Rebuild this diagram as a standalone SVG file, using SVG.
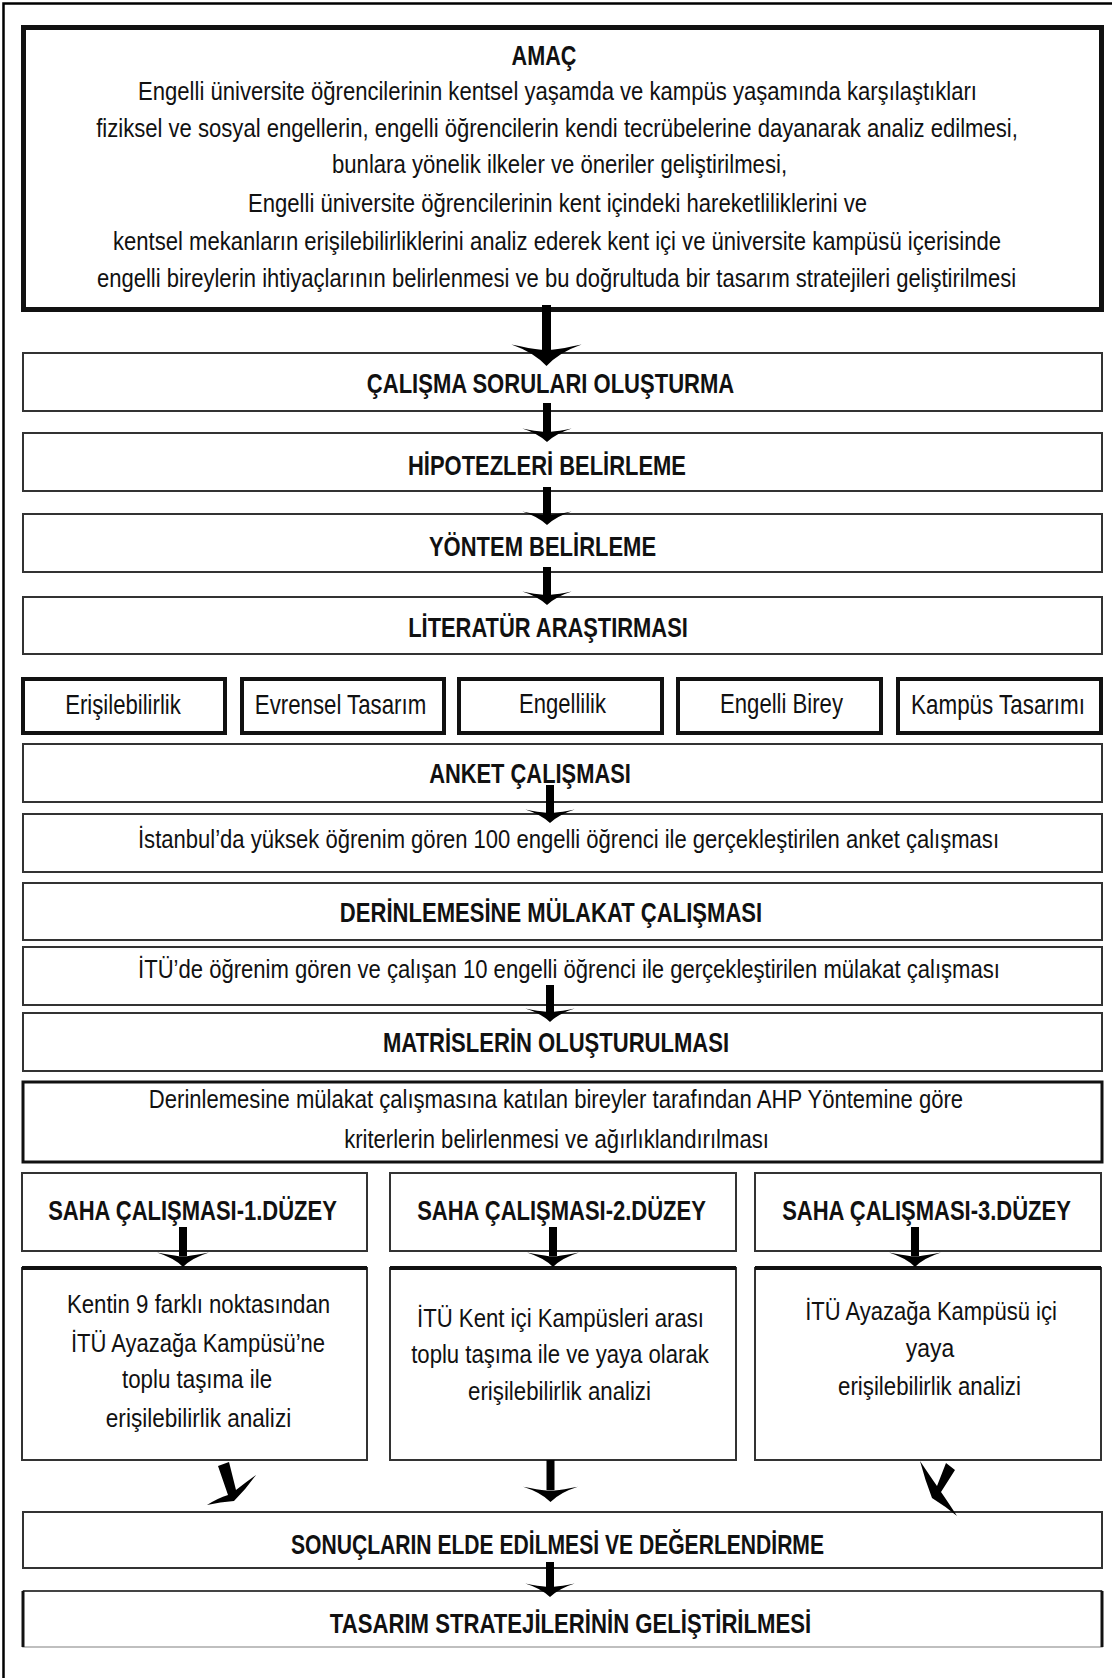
<svg xmlns="http://www.w3.org/2000/svg" xmlns:xlink="http://www.w3.org/1999/xlink" width="1112" height="1678" viewBox="0 0 1112 1678">
<style>
.box{fill:#fff;stroke:#333;stroke-width:2}
.thick{fill:#fff;stroke:#111;stroke-width:4}
.t{font-family:"Liberation Sans","Arial",sans-serif;font-size:26.5px;fill:#111;text-anchor:middle}
.b{font-weight:bold;font-size:28px}
.k{font-size:28px}
.shaft{stroke:#000;stroke-width:9;fill:none}
.sh2{stroke:#000;stroke-width:8;fill:none}
.head{fill:#000}
</style>
<defs>
<path id="hd" d="M0,0 Q-9,-10 -26,-16 Q-12,-13 -4,-12 L4,-12 Q12,-13 26,-16 Q9,-10 0,0 Z"/>
</defs>
<rect x="0" y="0" width="1112" height="1678" fill="#fff"/>
<path d="M3.5,1678 L3.5,3.5 L1112,3.5" fill="none" stroke="#000" stroke-width="2.5"/>

<g id="amac">
<rect x="23.5" y="27.5" width="1078" height="282" fill="#fff" stroke="#111" stroke-width="5"/>
<text class="t b" transform="translate(544,65) scale(.82,1)" textLength="79" lengthAdjust="spacingAndGlyphs">AMAÇ</text>
<text class="t" transform="translate(557.5,100) scale(.82,1)" textLength="1023" lengthAdjust="spacingAndGlyphs">Engelli üniversite öğrencilerinin kentsel yaşamda ve kampüs yaşamında karşılaştıkları</text>
<text class="t" transform="translate(557,137) scale(.82,1)" textLength="1124" lengthAdjust="spacingAndGlyphs">fiziksel ve sosyal engellerin, engelli öğrencilerin kendi tecrübelerine dayanarak analiz edilmesi,</text>
<text class="t" transform="translate(559.5,173) scale(.82,1)" textLength="555" lengthAdjust="spacingAndGlyphs">bunlara yönelik ilkeler ve öneriler geliştirilmesi,</text>
<text class="t" transform="translate(557.5,212) scale(.82,1)" textLength="755" lengthAdjust="spacingAndGlyphs">Engelli üniversite öğrencilerinin kent içindeki hareketliliklerini ve</text>
<text class="t" transform="translate(557,250) scale(.82,1)" textLength="1083" lengthAdjust="spacingAndGlyphs">kentsel mekanların erişilebilirliklerini analiz ederek kent içi ve üniversite kampüsü içerisinde</text>
<text class="t" transform="translate(556.5,287) scale(.82,1)" textLength="1121" lengthAdjust="spacingAndGlyphs">engelli bireylerin ihtiyaçlarının belirlenmesi ve bu doğrultuda bir tasarım stratejileri geliştirilmesi</text>
</g>

<g id="calisma">
<rect class="box" x="23" y="353" width="1079" height="58"/>
<text class="t b" transform="translate(550.5,393) scale(.82,1)" textLength="448" lengthAdjust="spacingAndGlyphs">ÇALIŞMA SORULARI OLUŞTURMA</text>
</g>
<g id="hipotez">
<rect class="box" x="23" y="433" width="1079" height="58"/>
<text class="t b" transform="translate(547,475) scale(.82,1)" textLength="339" lengthAdjust="spacingAndGlyphs">HİPOTEZLERİ BELİRLEME</text>
</g>
<g id="yontem">
<rect class="box" x="23" y="514" width="1079" height="58"/>
<text class="t b" transform="translate(542.5,556) scale(.82,1)" textLength="277" lengthAdjust="spacingAndGlyphs">YÖNTEM BELİRLEME</text>
</g>
<g id="literatur">
<rect class="box" x="23" y="597" width="1079" height="57"/>
<text class="t b" transform="translate(548,637) scale(.82,1)" textLength="341" lengthAdjust="spacingAndGlyphs">LİTERATÜR ARAŞTIRMASI</text>
</g>

<g id="k1"><rect class="thick" x="23" y="679" width="202" height="54"/><text class="t k" transform="translate(123,714) scale(.82,1)" textLength="141" lengthAdjust="spacingAndGlyphs">Erişilebilirlik</text></g>
<g id="k2"><rect class="thick" x="242" y="679" width="202" height="54"/><text class="t k" transform="translate(340.5,714) scale(.82,1)" textLength="209" lengthAdjust="spacingAndGlyphs">Evrensel Tasarım</text></g>
<g id="k3"><rect class="thick" x="459" y="679" width="203" height="54"/><text class="t k" transform="translate(562.5,713) scale(.82,1)" textLength="106" lengthAdjust="spacingAndGlyphs">Engellilik</text></g>
<g id="k4"><rect class="thick" x="678" y="679" width="203" height="54"/><text class="t k" transform="translate(781.5,713) scale(.82,1)" textLength="150" lengthAdjust="spacingAndGlyphs">Engelli Birey</text></g>
<g id="k5"><rect class="thick" x="898" y="679" width="203" height="54"/><text class="t k" transform="translate(998,714) scale(.82,1)" textLength="212" lengthAdjust="spacingAndGlyphs">Kampüs Tasarımı</text></g>

<g id="anket">
<rect class="box" x="23" y="744" width="1079" height="58"/>
<text class="t b" transform="translate(530,783) scale(.82,1)" textLength="246" lengthAdjust="spacingAndGlyphs">ANKET ÇALIŞMASI</text>
</g>
<g id="istanbul">
<rect class="box" x="23" y="814" width="1079" height="58"/>
<text class="t" transform="translate(568.5,848) scale(.82,1)" textLength="1050" lengthAdjust="spacingAndGlyphs">İstanbul’da yüksek öğrenim gören 100 engelli öğrenci ile gerçekleştirilen anket çalışması</text>
</g>
<g id="derinlemesine">
<rect class="box" x="23" y="883" width="1079" height="57"/>
<text class="t b" transform="translate(551,922) scale(.82,1)" textLength="515" lengthAdjust="spacingAndGlyphs">DERİNLEMESİNE MÜLAKAT ÇALIŞMASI</text>
</g>
<g id="itude">
<rect class="box" x="23" y="947" width="1079" height="58"/>
<text class="t" transform="translate(569,978) scale(.82,1)" textLength="1051" lengthAdjust="spacingAndGlyphs">İTÜ’de öğrenim gören ve çalışan 10 engelli öğrenci ile gerçekleştirilen mülakat çalışması</text>
</g>
<g id="matris">
<rect class="box" x="23" y="1013" width="1079" height="58"/>
<text class="t b" transform="translate(556,1052) scale(.82,1)" textLength="422" lengthAdjust="spacingAndGlyphs">MATRİSLERİN OLUŞTURULMASI</text>
</g>
<g id="ahp">
<rect x="23" y="1082" width="1079" height="80" fill="#fff" stroke="#111" stroke-width="3"/>
<text class="t" transform="translate(556,1108) scale(.82,1)" textLength="993" lengthAdjust="spacingAndGlyphs">Derinlemesine mülakat çalışmasına katılan bireyler tarafından AHP Yöntemine göre</text>
<text class="t" transform="translate(556.5,1148) scale(.82,1)" textLength="518" lengthAdjust="spacingAndGlyphs">kriterlerin belirlenmesi ve ağırlıklandırılması</text>
</g>

<g id="saha1">
<rect class="box" x="22" y="1173" width="345" height="78"/>
<text class="t b" transform="translate(192.5,1220) scale(.82,1)" textLength="352" lengthAdjust="spacingAndGlyphs">SAHA ÇALIŞMASI-1.DÜZEY</text>
</g>
<g id="saha2">
<rect class="box" x="390" y="1173" width="346" height="78"/>
<text class="t b" transform="translate(561.5,1220) scale(.82,1)" textLength="352" lengthAdjust="spacingAndGlyphs">SAHA ÇALIŞMASI-2.DÜZEY</text>
</g>
<g id="saha3">
<rect class="box" x="755" y="1173" width="346" height="78"/>
<text class="t b" transform="translate(926.5,1220) scale(.82,1)" textLength="352" lengthAdjust="spacingAndGlyphs">SAHA ÇALIŞMASI-3.DÜZEY</text>
</g>

<g id="icerik1">
<rect class="box" x="22" y="1268" width="345" height="192"/>
<line x1="22" y1="1268" x2="367" y2="1268" stroke="#111" stroke-width="4"/>
<text class="t" transform="translate(198.5,1313) scale(.82,1)" textLength="321" lengthAdjust="spacingAndGlyphs">Kentin 9 farklı noktasından</text>
<text class="t" transform="translate(198,1352) scale(.82,1)" textLength="310" lengthAdjust="spacingAndGlyphs">İTÜ Ayazağa Kampüsü’ne</text>
<text class="t" transform="translate(197,1388) scale(.82,1)" textLength="183" lengthAdjust="spacingAndGlyphs">toplu taşıma ile</text>
<text class="t" transform="translate(198.5,1427) scale(.82,1)" textLength="226" lengthAdjust="spacingAndGlyphs">erişilebilirlik analizi</text>
</g>
<g id="icerik2">
<rect class="box" x="390" y="1268" width="346" height="192"/>
<line x1="390" y1="1268" x2="736" y2="1268" stroke="#111" stroke-width="4"/>
<text class="t" transform="translate(560.5,1327) scale(.82,1)" textLength="350" lengthAdjust="spacingAndGlyphs">İTÜ Kent içi Kampüsleri arası</text>
<text class="t" transform="translate(560,1363) scale(.82,1)" textLength="363" lengthAdjust="spacingAndGlyphs">toplu taşıma ile ve yaya olarak</text>
<text class="t" transform="translate(559.5,1400) scale(.82,1)" textLength="223" lengthAdjust="spacingAndGlyphs">erişilebilirlik analizi</text>
</g>
<g id="icerik3">
<rect class="box" x="755" y="1268" width="346" height="192"/>
<line x1="755" y1="1268" x2="1101" y2="1268" stroke="#111" stroke-width="4"/>
<text class="t" transform="translate(931,1320) scale(.82,1)" textLength="307" lengthAdjust="spacingAndGlyphs">İTÜ Ayazağa Kampüsü içi</text>
<text class="t" transform="translate(930,1357) scale(.82,1)" textLength="59" lengthAdjust="spacingAndGlyphs">yaya</text>
<text class="t" transform="translate(929.5,1395) scale(.82,1)" textLength="223" lengthAdjust="spacingAndGlyphs">erişilebilirlik analizi</text>
</g>

<g id="sonuclar">
<rect class="box" x="23" y="1512" width="1079" height="56"/>
<text class="t b" transform="translate(557.5,1554) scale(.82,1)" textLength="650" lengthAdjust="spacingAndGlyphs">SONUÇLARIN ELDE EDİLMESİ VE DEĞERLENDİRME</text>
</g>
<g id="tasarim">
<rect x="23" y="1591" width="1079" height="56" fill="#fff" stroke="#aaa" stroke-width="1.5"/>
<line x1="23" y1="1591" x2="1102" y2="1591" stroke="#444" stroke-width="2"/>
<line x1="23" y1="1591" x2="23" y2="1647" stroke="#111" stroke-width="3"/>
<line x1="1102" y1="1591" x2="1102" y2="1647" stroke="#111" stroke-width="3"/>
<text class="t b" transform="translate(570.5,1633) scale(.82,1)" textLength="587" lengthAdjust="spacingAndGlyphs">TASARIM STRATEJİLERİNİN GELİŞTİRİLMESİ</text>
</g>

<g id="connectors">
<line class="shaft" x1="546.5" y1="305" x2="546.5" y2="352"/>
<use xlink:href="#hd" class="head" transform="translate(546.5,366) scale(1.35)"/>
<line class="sh2" x1="547" y1="403" x2="547" y2="432"/>
<use xlink:href="#hd" class="head" transform="translate(547,442) scale(0.95,0.85)"/>
<line class="sh2" x1="547" y1="487" x2="547" y2="515"/>
<use xlink:href="#hd" class="head" transform="translate(547,525) scale(0.95,0.85)"/>
<line class="sh2" x1="547" y1="567" x2="547" y2="595"/>
<use xlink:href="#hd" class="head" transform="translate(547,605) scale(0.95,0.85)"/>
<line class="sh2" x1="550" y1="785" x2="550" y2="813"/>
<use xlink:href="#hd" class="head" transform="translate(550,823) scale(0.95,0.85)"/>
<line class="sh2" x1="550" y1="985" x2="550" y2="1012"/>
<use xlink:href="#hd" class="head" transform="translate(550,1022) scale(0.95,0.85)"/>
<line class="sh2" x1="183" y1="1227" x2="183" y2="1256"/>
<use xlink:href="#hd" class="head" transform="translate(183,1267) scale(1,0.9)"/>
<line class="sh2" x1="553" y1="1227" x2="553" y2="1256"/>
<use xlink:href="#hd" class="head" transform="translate(553,1267) scale(1,0.9)"/>
<line class="sh2" x1="915" y1="1227" x2="915" y2="1256"/>
<use xlink:href="#hd" class="head" transform="translate(915,1267) scale(1,0.9)"/>
<path class="head" d="M218,1466 L229,1462 L236,1490 Q246,1482 256,1475 Q246,1489 234,1501 Q220,1502 207,1505 Q218,1498 228,1495 Z"/>
<line class="sh2" x1="550.5" y1="1460" x2="550.5" y2="1490"/>
<use xlink:href="#hd" class="head" transform="translate(550.5,1502) scale(1.05,0.95)"/>
<path class="head" d="M946,1463 L955,1470 L941,1492 Q948,1502 957,1516 Q945,1506 932,1498 Q925,1480 920,1461 Q930,1476 937,1486 Z"/>
<line class="sh2" x1="550" y1="1562" x2="550" y2="1587"/>
<use xlink:href="#hd" class="head" transform="translate(550,1597) scale(0.95,0.85)"/>
</g>
</svg>
